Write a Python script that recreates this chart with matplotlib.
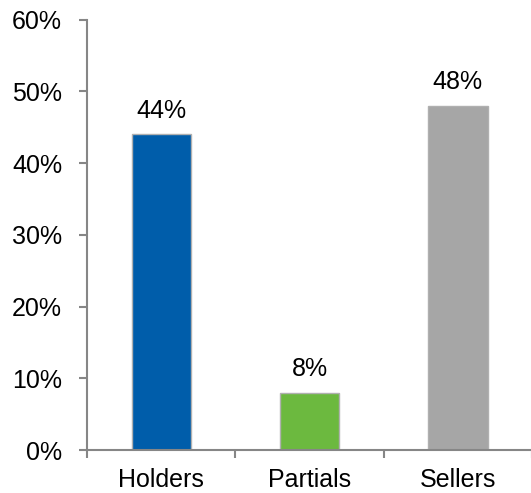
import matplotlib.pyplot as plt
import numpy as np
from matplotlib.ticker import FuncFormatter

categories = ["Holders", "Partials", "Sellers"]
shares = [44, 8, 48]
bar_colors = ["#005DAA", "#6CB93F", "#A6A6A6"]
y_ticks = [0, 10, 20, 30, 40, 50, 60]

plt.rcParams['font.family'] = ['Liberation Sans', 'DejaVu Sans']


def main():
    fig = plt.figure(figsize=(5.31, 4.93), dpi=100)
    ax = fig.add_axes([0.164, 0.087, 0.838, 0.873])

    x = np.arange(len(categories))
    ax.bar(x, shares, width=0.4, color=bar_colors, edgecolor="#B0B0B0",
           linewidth=1.0, zorder=2)

    for xi, val in zip(x, shares):
        ax.annotate(f"{val}%", (xi, val), xytext=(0, 12), textcoords="offset points",
                    ha="center", va="baseline", fontsize=18, color="#000000")

    ax.set_xlim(-0.5, 2.5)
    ax.set_ylim(0, 60)
    ax.set_yticks(y_ticks)
    ax.yaxis.set_major_formatter(FuncFormatter(lambda v, p: f"{v:.0f}%"))

    # category labels at centres, tick marks at the boundaries
    ax.set_xticks(x)
    ax.set_xticklabels(categories)
    ax.set_xticks(np.arange(-0.5, 3.0, 1.0), minor=True)
    ax.tick_params(axis="x", which="major", length=0, pad=13, labelsize=18)
    ax.tick_params(axis="x", which="minor", length=6, width=1.5, color="#868686")
    ax.tick_params(axis="y", length=6, width=1.5, color="#868686", pad=12, labelsize=18)

    for side in ["top", "right"]:
        ax.spines[side].set_visible(False)
    for side in ["left", "bottom"]:
        ax.spines[side].set_color("#868686")
        ax.spines[side].set_linewidth(1.5)

    fig.savefig("out.png", dpi=100)


if __name__ == '__main__':
    main()
